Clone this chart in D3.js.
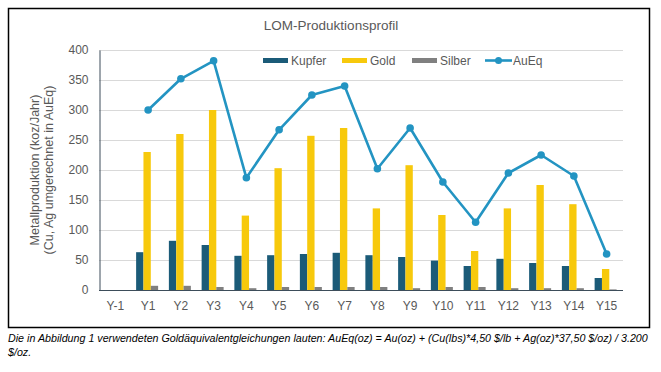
<!DOCTYPE html>
<html>
<head>
<meta charset="utf-8">
<script src="https://cdn.jsdelivr.net/npm/d3@7"></script>
<style>
  body { margin: 0; background: #fff; font-family: "Liberation Sans", Arial, sans-serif; }
  svg text { fill: #595959; }
</style>
</head>
<body>
<script>
const years = ['Y-1', 'Y1', 'Y2', 'Y3', 'Y4', 'Y5', 'Y6', 'Y7', 'Y8', 'Y9', 'Y10', 'Y11', 'Y12', 'Y13', 'Y14', 'Y15'];
const kupfer = [0, 63, 82, 75, 57, 58, 60, 62, 58, 55, 49, 40, 52, 45, 40, 20];
const gold = [0, 230, 260, 300, 124, 203, 257, 270, 136, 208, 125, 65, 136, 175, 143, 35];
const silber = [0, 7, 7, 5, 3, 5, 5, 5, 5, 3, 5, 5, 3, 3, 3, 1];
const aueq = [null, 300, 352, 382, 187, 267, 325, 340, 202, 270, 180, 113, 195, 225, 190, 60];
const yTicks = [0, 50, 100, 150, 200, 250, 300, 350, 400];

const w = 661, h = 372;
const padding = { top: 50, right: 38, bottom: 82, left: 99 };
const colors = { Kupfer: '#1b5b78', Gold: '#f7c90c', Silber: '#808080', AuEq: '#2394c2' };

const svg = d3.select('body').append('svg')
  .attr('width', w)
  .attr('height', h);

// outer frame
svg.append('rect')
  .attr('x', 8.5).attr('y', 8.5)
  .attr('width', 641).attr('height', 319)
  .attr('fill', 'none')
  .attr('stroke', '#000')
  .attr('stroke-width', 1.5);

const xScale = d3.scaleBand()
  .domain(years)
  .range([padding.left, w - padding.right]);
const bw = xScale.bandwidth();

const yScale = d3.scaleLinear().domain([0, 400]).range([h - padding.bottom, padding.top]);

// gridlines
svg.append('g')
  .selectAll('line')
  .data(yTicks.slice(1))
  .enter()
  .append('line')
  .attr('x1', padding.left)
  .attr('x2', w - padding.right)
  .attr('y1', d => yScale(d) + 0.5)
  .attr('y2', d => yScale(d) + 0.5)
  .attr('stroke', '#d9d9d9');

const yAxis = d3.axisLeft(yScale).tickValues(yTicks).tickSize(0).tickPadding(11);
svg.append('g')
  .attr('transform', `translate(${padding.left + 0.5},0)`)
  .call(yAxis)
  .call(g => g.select('.domain').attr('stroke', '#3d4d5a'))
  .call(g => g.selectAll('text').attr('font-size', 12).attr('fill', '#595959').attr('font-family', '"Liberation Sans", Arial, sans-serif'));

// bars
const x1 = d3.scaleBand().domain(['Kupfer', 'Gold', 'Silber']).range([0, 22]);
const series = [['Kupfer', kupfer], ['Gold', gold], ['Silber', silber]];
series.forEach(([name, vals]) => {
  svg.append('g')
    .selectAll('rect')
    .data(vals)
    .enter()
    .append('rect')
    .attr('x', (d, i) => xScale(years[i]) + bw / 2 - 12 + x1(name))
    .attr('y', d => yScale(d))
    .attr('width', x1.bandwidth())
    .attr('height', d => yScale(0) - yScale(d))
    .attr('fill', colors[name]);
});

// baseline
svg.append('line')
  .attr('x1', padding.left)
  .attr('x2', w - padding.right)
  .attr('y1', yScale(0) + 0.5)
  .attr('y2', yScale(0) + 0.5)
  .attr('stroke', '#3d4d5a');

// AuEq line
const lineData = aueq.map((v, i) => ({ v, y: years[i] })).filter(d => d.v !== null);
const line = d3.line()
  .x(d => xScale(d.y) + bw / 2)
  .y(d => yScale(d.v));
svg.append('path')
  .datum(lineData)
  .attr('d', line)
  .attr('fill', 'none')
  .attr('stroke', colors.AuEq)
  .attr('stroke-width', 2.6)
  .attr('stroke-linejoin', 'round');
svg.append('g')
  .selectAll('circle')
  .data(lineData)
  .enter()
  .append('circle')
  .attr('cx', d => xScale(d.y) + bw / 2)
  .attr('cy', d => yScale(d.v))
  .attr('r', 3.8)
  .attr('fill', colors.AuEq);

// x labels
svg.append('g')
  .selectAll('text')
  .data(years)
  .enter()
  .append('text')
  .attr('x', d => xScale(d) + bw / 2)
  .attr('y', yScale(0) + 20)
  .attr('text-anchor', 'middle')
  .attr('font-size', 12)
  .text(d => d);

// title
svg.append('text')
  .attr('x', 331)
  .attr('y', 30)
  .attr('text-anchor', 'middle')
  .attr('font-size', 13.5)
  .text('LOM-Produktionsprofil');

// y label
const yl = svg.append('text')
  .attr('transform', `translate(41,${(yScale(0) + yScale(400)) / 2}) rotate(-90)`)
  .attr('text-anchor', 'middle')
  .attr('font-size', 12.5);
yl.append('tspan').attr('x', 0).attr('dy', '-0.2em').text('Metallproduktion (koz/Jahr)');
yl.append('tspan').attr('x', 0).attr('dy', '1.15em').text('(Cu, Ag umgerechnet in AuEq)');

// legend
const legend = [
  { name: 'Kupfer', x: 263, type: 'bar' },
  { name: 'Gold', x: 342, type: 'bar' },
  { name: 'Silber', x: 412, type: 'bar' },
  { name: 'AuEq', x: 485, type: 'line' }
];
const lg = svg.append('g');
legend.forEach(l => {
  if (l.type === 'bar') {
    lg.append('rect').attr('x', l.x).attr('y', 58).attr('width', 25).attr('height', 5).attr('fill', colors[l.name]);
  } else {
    lg.append('line').attr('x1', l.x).attr('x2', l.x + 27).attr('y1', 60.5).attr('y2', 60.5)
      .attr('stroke', colors.AuEq).attr('stroke-width', 2.6);
    lg.append('circle').attr('cx', l.x + 13.5).attr('cy', 60.5).attr('r', 3.5).attr('fill', colors.AuEq);
  }
  lg.append('text').attr('x', l.x + 28).attr('y', 65).attr('font-size', 12).text(l.name);
});

// footnote
const fn = svg.append('text')
  .attr('x', 8)
  .attr('font-size', 10.7)
  .attr('font-style', 'italic')
  .style('fill', '#000');
fn.append('tspan').attr('x', 8).attr('y', 342)
  .text('Die in Abbildung 1 verwendeten Goldäquivalentgleichungen lauten: AuEq(oz) = Au(oz) + (Cu(lbs)*4,50 $/lb + Ag(oz)*37,50 $/oz) / 3.200');
fn.append('tspan').attr('x', 8).attr('y', 356).text('$/oz.');
</script>
</body>
</html>
